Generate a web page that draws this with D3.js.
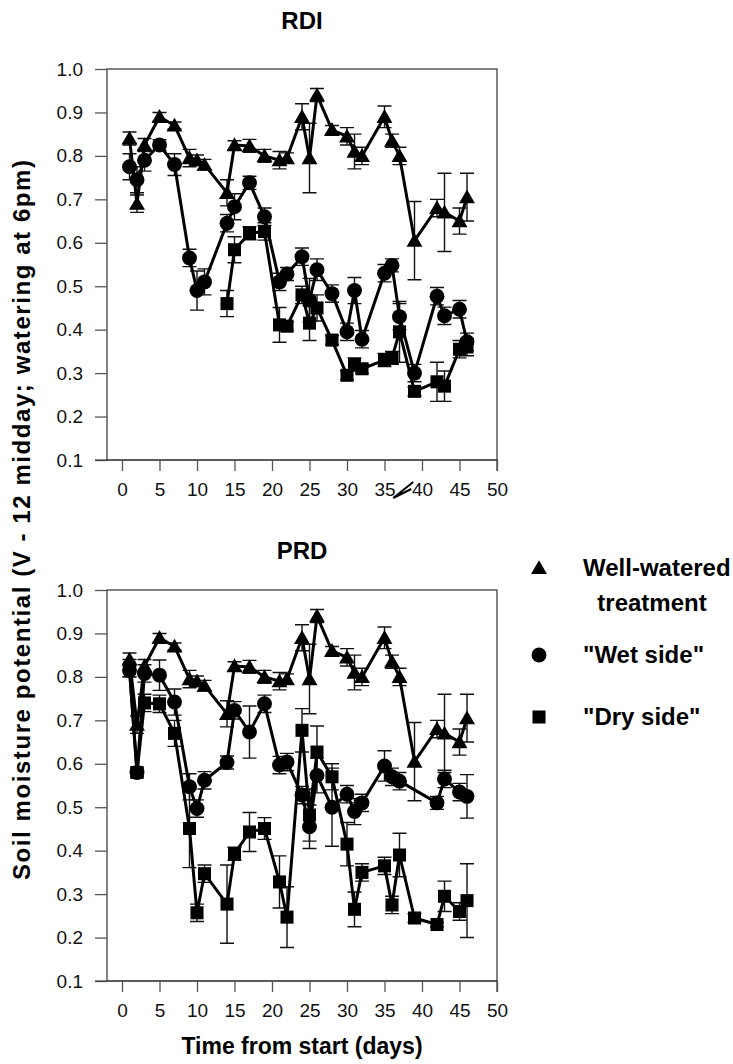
<!DOCTYPE html>
<html>
<head>
<meta charset="utf-8">
<script src="https://cdn.jsdelivr.net/npm/d3@7"></script>
<style>
  body { margin: 0; background: #fff; }
  svg { font-family: "Liberation Sans", Arial, sans-serif; }
</style>
</head>
<body>
<svg id="chart" width="733" height="1064"></svg>
<script>
// sampling days (x)
const days = [1, 2, 3, 5, 7, 9, 10, 11, 14, 15, 17, 19, 21, 22, 24, 25, 26, 28, 30, 31, 32, 35, 36, 37, 39, 42, 43, 45, 46];

// well-watered treatment (same in both panels)
const wellWatered    = [0.84, 0.69, 0.825, 0.89, 0.87, 0.795, 0.79, 0.78, 0.715, 0.825, 0.823, 0.80, 0.79, 0.795, 0.89, 0.795, 0.94, 0.86, 0.845, 0.81, 0.80, 0.89, 0.835, 0.80, 0.605, 0.68, 0.67, 0.65, 0.705];
const wellWateredErr = [0.015, 0.02, 0.015, 0.01, 0.008, 0.02, 0.012, 0.012, 0.03, 0.01, 0.015, 0.015, 0.02, 0.012, 0.03, 0.08, 0.015, 0.01, 0.02, 0.04, 0.02, 0.025, 0.015, 0.02, 0.09, 0.02, 0.09, 0.03, 0.055];

// RDI
const rdiWet    = [0.775, 0.745, 0.79, 0.825, 0.78, 0.565, 0.49, 0.51, 0.645, 0.683, 0.738, 0.66, 0.51, 0.528, 0.568, 0.468, 0.538, 0.483, 0.395, 0.49, 0.378, 0.53, 0.548, 0.43, 0.30, 0.477, 0.432, 0.447, 0.372];
const rdiWetErr = [0.03, 0.03, 0.025, 0.012, 0.025, 0.02, 0.045, 0.03, 0.02, 0.03, 0.015, 0.02, 0.02, 0.015, 0.02, 0.05, 0.025, 0.02, 0.02, 0.03, 0.02, 0.02, 0.015, 0.03, 0.02, 0.02, 0.02, 0.02, 0.02];
const rdiDry    = [null, null, null, null, null, null, null, null, 0.46, 0.584, 0.622, 0.626, 0.411, 0.408, 0.48, 0.415, 0.45, 0.376, 0.295, 0.32, 0.31, 0.33, 0.335, 0.395, 0.258, 0.28, 0.27, 0.355, 0.36];
const rdiDryErr = [null, null, null, null, null, null, null, null, 0.03, 0.03, 0.015, 0.02, 0.04, 0.01, 0.02, 0.04, 0.03, 0.01, 0.01, 0.015, 0.01, 0.015, 0.015, 0.07, 0.01, 0.045, 0.035, 0.02, 0.02];

// PRD
const prdWet    = [0.815, 0.58, 0.808, 0.804, 0.742, 0.547, 0.497, 0.562, 0.603, 0.723, 0.673, 0.738, 0.597, 0.604, 0.528, 0.455, 0.573, 0.50, 0.53, 0.49, 0.51, 0.595, 0.57, 0.56, null, 0.51, 0.565, 0.535, 0.525];
const prdWetErr = [0.015, 0.01, 0.02, 0.035, 0.03, 0.03, 0.02, 0.02, 0.015, 0.02, 0.06, 0.02, 0.02, 0.02, 0.02, 0.05, 0.04, 0.09, 0.02, 0.03, 0.02, 0.035, 0.02, 0.02, null, 0.015, 0.02, 0.02, 0.05];
const prdDry    = [0.82, 0.58, 0.74, 0.738, 0.67, 0.451, 0.257, 0.347, 0.277, 0.393, 0.443, 0.451, 0.328, 0.247, 0.677, 0.482, 0.627, 0.57, 0.415, 0.265, 0.35, 0.365, 0.275, 0.39, 0.245, 0.23, 0.295, 0.26, 0.285];
const prdDryErr = [0.02, 0.01, 0.02, 0.02, 0.03, 0.09, 0.02, 0.02, 0.09, 0.015, 0.045, 0.025, 0.06, 0.07, 0.05, 0.06, 0.06, 0.03, 0.05, 0.04, 0.02, 0.02, 0.02, 0.05, 0.01, 0.005, 0.035, 0.02, 0.085];

const xTicks = [0, 5, 10, 15, 20, 25, 30, 35, 40, 45, 50];
const yTicks = [0.1, 0.2, 0.3, 0.4, 0.5, 0.6, 0.7, 0.8, 0.9, 1.0];

const legendLabels = [["Well-watered", "treatment"], ["\"Wet side\""], ["\"Dry side\""]];

const svg = d3.select('#chart');

const left = 107, right = 497;
const plotH = 391;
const x = d3.scaleLinear().domain([-2, 50]).range([left, right]);

const symbols = [d3.symbolTriangle, d3.symbolCircle, d3.symbolSquare];
const symSize = [110, 175, 170];

function series(vals, errs) {
  return days.map((d, i) => ({ day: d, v: vals[i], e: errs[i] })).filter(p => p.v != null);
}

function panel(top, title, data, breakMark) {
  const y = d3.scaleLinear().domain([0.1, 1.0]).range([top + plotH, top]);
  const g = svg.append('g');

  // title
  g.append('text')
    .attr('x', (left + right) / 2).attr('y', top - (title === 'RDI' ? 40 : 31))
    .attr('text-anchor', 'middle')
    .style('font-size', '24px').style('font-weight', 'bold')
    .text(title);

  // frame
  g.append('rect')
    .attr('x', left).attr('y', top)
    .attr('width', right - left).attr('height', plotH)
    .attr('fill', 'none').attr('stroke', '#333').attr('stroke-width', 1.2);

  // y axis
  const ya = g.append('g')
    .attr('transform', `translate(${left},0)`)
    .call(d3.axisLeft(y).tickValues(yTicks).tickFormat(d3.format('.1f')).tickSize(12).tickPadding(12));
  ya.select('.domain').remove();
  ya.selectAll('line').attr('stroke', '#555').attr('stroke-width', 1.3);
  ya.selectAll('text').style('font-size', '19px').attr('fill', '#111');

  // x axis
  const xa = g.append('g')
    .attr('transform', `translate(0,${top + plotH})`)
    .call(d3.axisBottom(x).tickValues(xTicks).tickSize(11).tickPadding(12));
  xa.select('.domain').attr('d', `M${left - 12},0H${right}V11`).attr('stroke', '#333').attr('stroke-width', 1.2);
  xa.selectAll('line').attr('stroke', '#555').attr('stroke-width', 1.3);
  xa.selectAll('text').style('font-size', '19px').attr('fill', '#111');

  if (breakMark) {
    const bx = x(37.5), by = top + plotH + 30;
    g.append('path')
      .attr('d', `M${bx - 10},${by + 8}L${bx + 10},${by - 8}M${bx - 10},${by + 8}L${bx + 8},${by - 1}`)
      .attr('stroke', '#000').attr('stroke-width', 2).attr('fill', 'none');
  }

  const line = d3.line().x(p => x(p.day)).y(p => y(p.v));

  data.forEach(pts => {
    // error bars
    const eb = g.append('g').attr('stroke', '#111').attr('stroke-width', 1.4).attr('fill', 'none');
    pts.filter(p => p.e).forEach(p => {
      const cx = x(p.day), y1 = y(p.v + p.e), y2 = y(p.v - p.e);
      eb.append('path').attr('d', `M${cx},${y1}V${y2}M${cx - 7},${y1}H${cx + 7}M${cx - 7},${y2}H${cx + 7}`);
    });
  });

  data.forEach(pts => {
    g.append('path').datum(pts)
      .attr('d', line)
      .attr('fill', 'none').attr('stroke', '#000').attr('stroke-width', 3)
      .attr('stroke-linejoin', 'round');
  });

  data.forEach((pts, k) => {
    g.selectAll(null).data(pts).enter().append('path')
      .attr('d', d3.symbol().type(symbols[k]).size(symSize[k]))
      .attr('transform', p => `translate(${x(p.day)},${y(p.v) + (k === 0 ? 1.5 : 0)})`)
      .attr('fill', '#000');
  });
}

panel(69, 'RDI', [
  series(wellWatered, wellWateredErr),
  series(rdiWet, rdiWetErr),
  series(rdiDry, rdiDryErr)
], true);

panel(590, 'PRD', [
  series(wellWatered, wellWateredErr),
  series(prdWet, prdWetErr),
  series(prdDry, prdDryErr)
], false);

// y axis title
svg.append('text')
  .attr('transform', `translate(30,520) rotate(-90)`)
  .attr('text-anchor', 'middle')
  .attr('textLength', 720).attr('lengthAdjust', 'spacing')
  .style('font-size', '24px').style('font-weight', 'bold')
  .text('Soil moisture potential (V - 12 midday; watering at 6pm)');

// x axis title
svg.append('text')
  .attr('x', (left + right) / 2).attr('y', 1054)
  .attr('text-anchor', 'middle')
  .style('font-size', '23px').style('font-weight', 'bold')
  .text('Time from start (days)');

// legend
const legY = [568, 655, 717];
const leg = svg.append('g');
legendLabels.forEach((lab, k) => {
  leg.append('path')
    .attr('d', d3.symbol().type(symbols[k]).size(symSize[k]))
    .attr('transform', `translate(539,${legY[k] + (k === 0 ? 1.5 : 0)})`)
    .attr('fill', '#000');
  lab.forEach((t, j) => {
    leg.append('text')
      .attr('x', j === 0 ? 583 : 652).attr('y', legY[k] + 8 + j * 35)
      .attr('text-anchor', j === 0 ? 'start' : 'middle')
      .style('font-size', '24px').style('font-weight', 'bold')
      .text(t);
  });
});
</script>
</body>
</html>
